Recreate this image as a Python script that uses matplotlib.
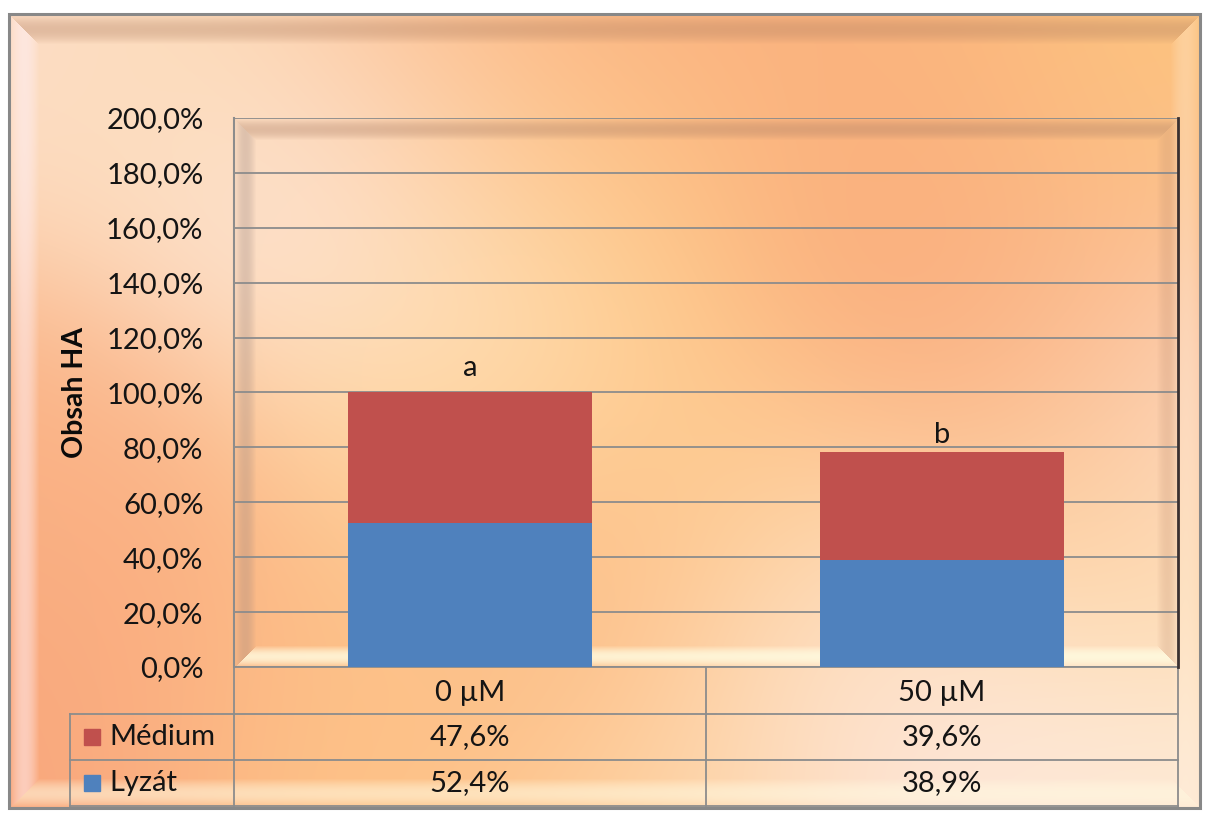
import numpy as np
import matplotlib.pyplot as plt
from matplotlib.patches import Rectangle

plt.rcParams['font.family'] = ['Lato', 'DejaVu Sans']

W, H = 1207, 814

categories = ['0 µM', '50 µM']
series_names = ['Médium', 'Lyzát']
medium = [47.6, 39.6]
lyzat = [52.4, 38.9]
letters = ['a', 'b']
yticks = list(range(0, 201, 20))

RED = '#C0504D'
BLUE = '#4F81BD'
GRID = '#8c8c8c'
TXT = '#141414'
FS = 21

# soft colour field for the fill: (x, y, rgb)
paint = [
    (40, 60, (252, 222, 210)), (160, 110, (254, 218, 165)), (420, 60, (252, 192, 145)),
    (640, 60, (250, 172, 128)), (900, 70, (251, 182, 126)), (1150, 80, (253, 198, 126)),
    (40, 420, (250, 180, 134)), (40, 700, (249, 166, 124)), (160, 560, (250, 174, 130)),
    (290, 200, (252, 236, 242)), (450, 300, (255, 228, 196)), (600, 190, (255, 208, 134)),
    (880, 230, (249, 170, 124)), (1020, 370, (249, 164, 120)), (720, 450, (255, 204, 142)),
    (1110, 500, (255, 214, 144)), (560, 600, (251, 184, 132)), (900, 600, (255, 224, 185)),
    (1195, 420, (252, 232, 238)), (330, 700, (254, 196, 136)), (900, 730, (252, 232, 234)),
    (1100, 780, (254, 234, 215)), (700, 780, (255, 212, 160)), (400, 420, (255, 212, 150)),
    (1100, 250, (251, 186, 134)),
]

yy, xx = np.mgrid[0:H, 0:W].astype(float)
num = np.zeros((H, W, 3))
den = np.zeros((H, W))
for px, py, c in paint:
    w = np.exp(-((xx - px) ** 2 + (yy - py) ** 2) / (2 * 130.0 ** 2))
    num += w[..., None] * np.array(c, float)
    den += w
img = num / den[..., None] / 255.0


def bevel(img, x0, y0, x1, y1, width, shades):
    # shades: side -> (rgb, strength), mitred at the corners
    d = np.stack([yy - y0, xx - x0, y1 - yy, x1 - xx])
    inside = (d >= 0).all(axis=0)
    m = d.min(axis=0)
    side = d.argmin(axis=0)
    band = inside & (m < width)
    prof = np.sin(np.pi * np.clip(m, 0, width) / width)
    for k, name in enumerate(['top', 'left', 'bottom', 'right']):
        col, s = shades[name]
        sel = band & (side == k)
        a = (prof * s)[sel][:, None]
        img[sel] = img[sel] * (1 - a) + np.array(col) / 255.0 * a


bevel(img, 9, 14, 1200, 808, 30, {
    'top': ((175, 125, 95), 0.35), 'left': ((255, 240, 248), 0.5),
    'bottom': ((255, 250, 225), 0.55), 'right': ((255, 240, 220), 0.3)})
bevel(img, 234, 118, 1178, 667, 22, {
    'top': ((170, 125, 100), 0.35), 'left': ((150, 130, 125), 0.3),
    'bottom': ((255, 252, 225), 0.8), 'right': ((190, 140, 110), 0.25)})

outside = (xx < 9) | (xx > 1200) | (yy < 14) | (yy > 808)
img[outside] = 1.0

fig = plt.figure(figsize=(W / 100, H / 100), dpi=100)
bg = fig.add_axes([0, 0, 1, 1])
bg.imshow(img, extent=(0, W, H, 0), interpolation='bilinear')
bg.set_xlim(0, W)
bg.set_ylim(H, 0)
bg.axis('off')
bg.add_patch(Rectangle((9, 14), 1191, 794, fill=False, ec='#888888', lw=2.2))

ax = fig.add_axes([234 / W, 1 - 667 / H, (1178 - 234) / W, (667 - 118) / H])
ax.patch.set_alpha(0)
x = np.arange(len(categories))
ax.bar(x, lyzat, width=0.515, color=BLUE, zorder=3)
ax.bar(x, medium, width=0.515, bottom=lyzat, color=RED, zorder=3)
ax.set_xlim(-0.5, 1.5)
ax.set_ylim(0, 200)
ax.set_yticks(yticks)
ax.set_yticklabels([f'{v:.1f}%'.replace('.', ',') for v in yticks], fontsize=FS, color=TXT)
ax.set_xticks([])
ax.tick_params(axis='y', length=0, pad=22)
ax.yaxis.grid(True, color=GRID, lw=1.3, zorder=1)
for s in ['top', 'bottom']:
    ax.spines[s].set_visible(False)
ax.spines['left'].set_color(GRID)
ax.spines['left'].set_linewidth(1.5)
ax.spines['right'].set_color('#3a3030')
ax.spines['right'].set_linewidth(2)

totals = [m + l for m, l in zip(medium, lyzat)]
for i, (t, lt, off) in enumerate(zip(totals, letters, [4.2, 1.4])):
    ax.text(i, t + off, lt, ha='center', va='bottom', fontsize=FS, color=TXT)

fig.text(75 / W, 1 - 393 / H, 'Obsah HA', rotation=90, ha='center', va='center',
         fontsize=20.5, fontweight='bold', color='#0a0a0a')

# data table under the axis
def to_px(xd):
    return bg.transData.inverted().transform(ax.transData.transform((xd, 0)))[0]

edges = [to_px(b) for b in (-0.5, 0.5, 1.5)]
centers = [to_px(i) for i in x]
row_y = [667, 714, 760, 806]
left = 70
lk = dict(color=GRID, lw=1.3, zorder=5)
bg.plot([edges[0], edges[-1]], [row_y[0], row_y[0]], **lk)
for yv in row_y[1:]:
    bg.plot([left, edges[-1]], [yv, yv], **lk)
for xe in edges:
    bg.plot([xe, xe], [row_y[0], row_y[-1]], **lk)
bg.plot([left, left], [row_y[1], row_y[-1]], **lk)

for cx, cat in zip(centers, categories):
    bg.text(cx, (row_y[0] + row_y[1]) / 2 + 2, cat, ha='center', va='center', fontsize=FS, color=TXT)

for r, (name, vals, col) in enumerate(zip(series_names, [medium, lyzat], [RED, BLUE])):
    yc = (row_y[r + 1] + row_y[r + 2]) / 2
    bg.add_patch(Rectangle((84, yc - 8), 16, 16, color=col, zorder=6))
    bg.text(109, yc, name, ha='left', va='center', fontsize=FS, color=TXT)
    for cx, v in zip(centers, vals):
        bg.text(cx, yc, f'{v:.1f}%'.replace('.', ','), ha='center', va='center', fontsize=FS, color=TXT)

fig.savefig('out.png', dpi=100)
